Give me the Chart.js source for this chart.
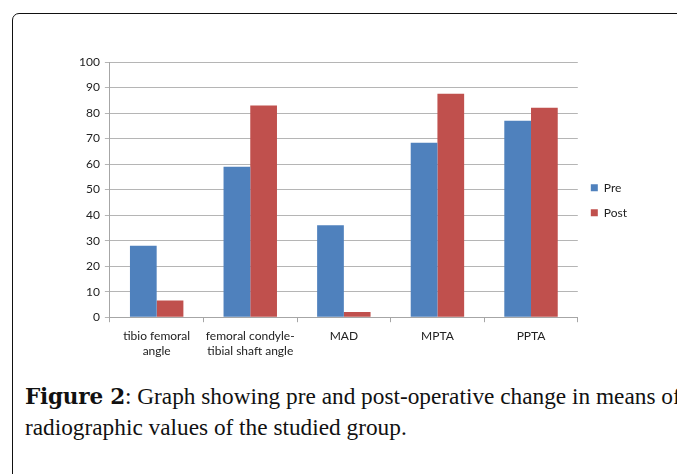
<!DOCTYPE html>
<html>
<head>
<meta charset="utf-8">
<script src="https://cdn.jsdelivr.net/npm/chart.js@4/dist/chart.umd.min.js"></script>
<style>
	body {
		margin: 0;
		background: #fff;
		width: 677px;
		height: 474px;
		overflow: hidden;
		position: relative;
	}
	.frame {
		position: absolute;
		left: 12px;
		top: 13px;
		width: 720px;
		height: 520px;
		border: 1.5px solid #111;
		border-radius: 7px;
	}
	.chart-box {
		position: absolute;
		left: 0;
		top: 0;
	}
	.caption {
		position: absolute;
		left: 25px;
		top: 381px;
		font-family: 'Liberation Serif', serif;
		font-size: 23.3px;
		line-height: 30px;
		color: #111;
		white-space: nowrap;
	}
	.caption b {
		font-family: 'DejaVu Serif', serif;
		font-size: 21.5px;
		letter-spacing: -0.2px;
	}
</style>
</head>
<body>
<div class="frame"></div>
<div class="chart-box"><canvas class="bar-chart" width="677" height="370"></canvas></div>
<div class="caption"><b>Figure 2</b>: Graph showing pre and post-operative change in means of<br>radiographic values of the studied group.</div>
<script>
let categories = [
	['tibio femoral', 'angle'],
	['femoral condyle-', 'tibial shaft angle'],
	'MAD',
	'MPTA',
	'PPTA',
]
let preValues = [28, 59, 36, 68.4, 77]
let postValues = [6.5, 83, 2, 87.6, 82.1]
let yTicks = [0, 10, 20, 30, 40, 50, 60, 70, 80, 90, 100]

let canvas = document.querySelector('.bar-chart')

let data = {
	labels: categories,
	datasets: [
		{
			label: 'Pre',
			data: preValues,
			backgroundColor: '#4f81bd',
		},
		{
			label: 'Post',
			data: postValues,
			backgroundColor: '#c0504d',
		},
	],
}

let labelFont = { family: 'Lato', size: 12 }

let options = {
	responsive: false,
	animation: false,
	devicePixelRatio: 1,
	layout: {
		padding: { top: 62, left: 74, right: 40, bottom: 5 },
	},
	datasets: {
		bar: {
			categoryPercentage: 0.571,
			barPercentage: 1,
		},
	},
	scales: {
		x: {
			grid: {
				drawOnChartArea: false,
				color: '#a6a6a6',
				tickLength: 5,
			},
			border: { color: '#a6a6a6' },
			ticks: {
				color: '#222',
				font: labelFont,
				padding: 7,
				maxRotation: 0,
			},
		},
		y: {
			min: yTicks[0],
			max: yTicks[yTicks.length - 1],
			afterBuildTicks: function (scale) {
				scale.ticks = yTicks.map(function (v) {
					return { value: v }
				})
			},
			grid: {
				color: '#b5b5b5',
				tickLength: 5,
			},
			border: { color: '#a6a6a6' },
			ticks: {
				color: '#222',
				font: labelFont,
				padding: 5,
			},
		},
	},
	plugins: {
		legend: {
			position: 'right',
			fullSize: false,
			title: {
				display: true,
				text: '',
				font: labelFont,
				padding: { top: 7, bottom: 0 },
			},
			labels: {
				boxWidth: 7,
				boxHeight: 7,
				padding: 13,
				color: '#222',
				font: labelFont,
			},
		},
		tooltip: { enabled: false },
	},
}

let chart = new Chart(canvas, {
	type: 'bar',
	data: data,
	options: options,
})
</script>
</body>
</html>
